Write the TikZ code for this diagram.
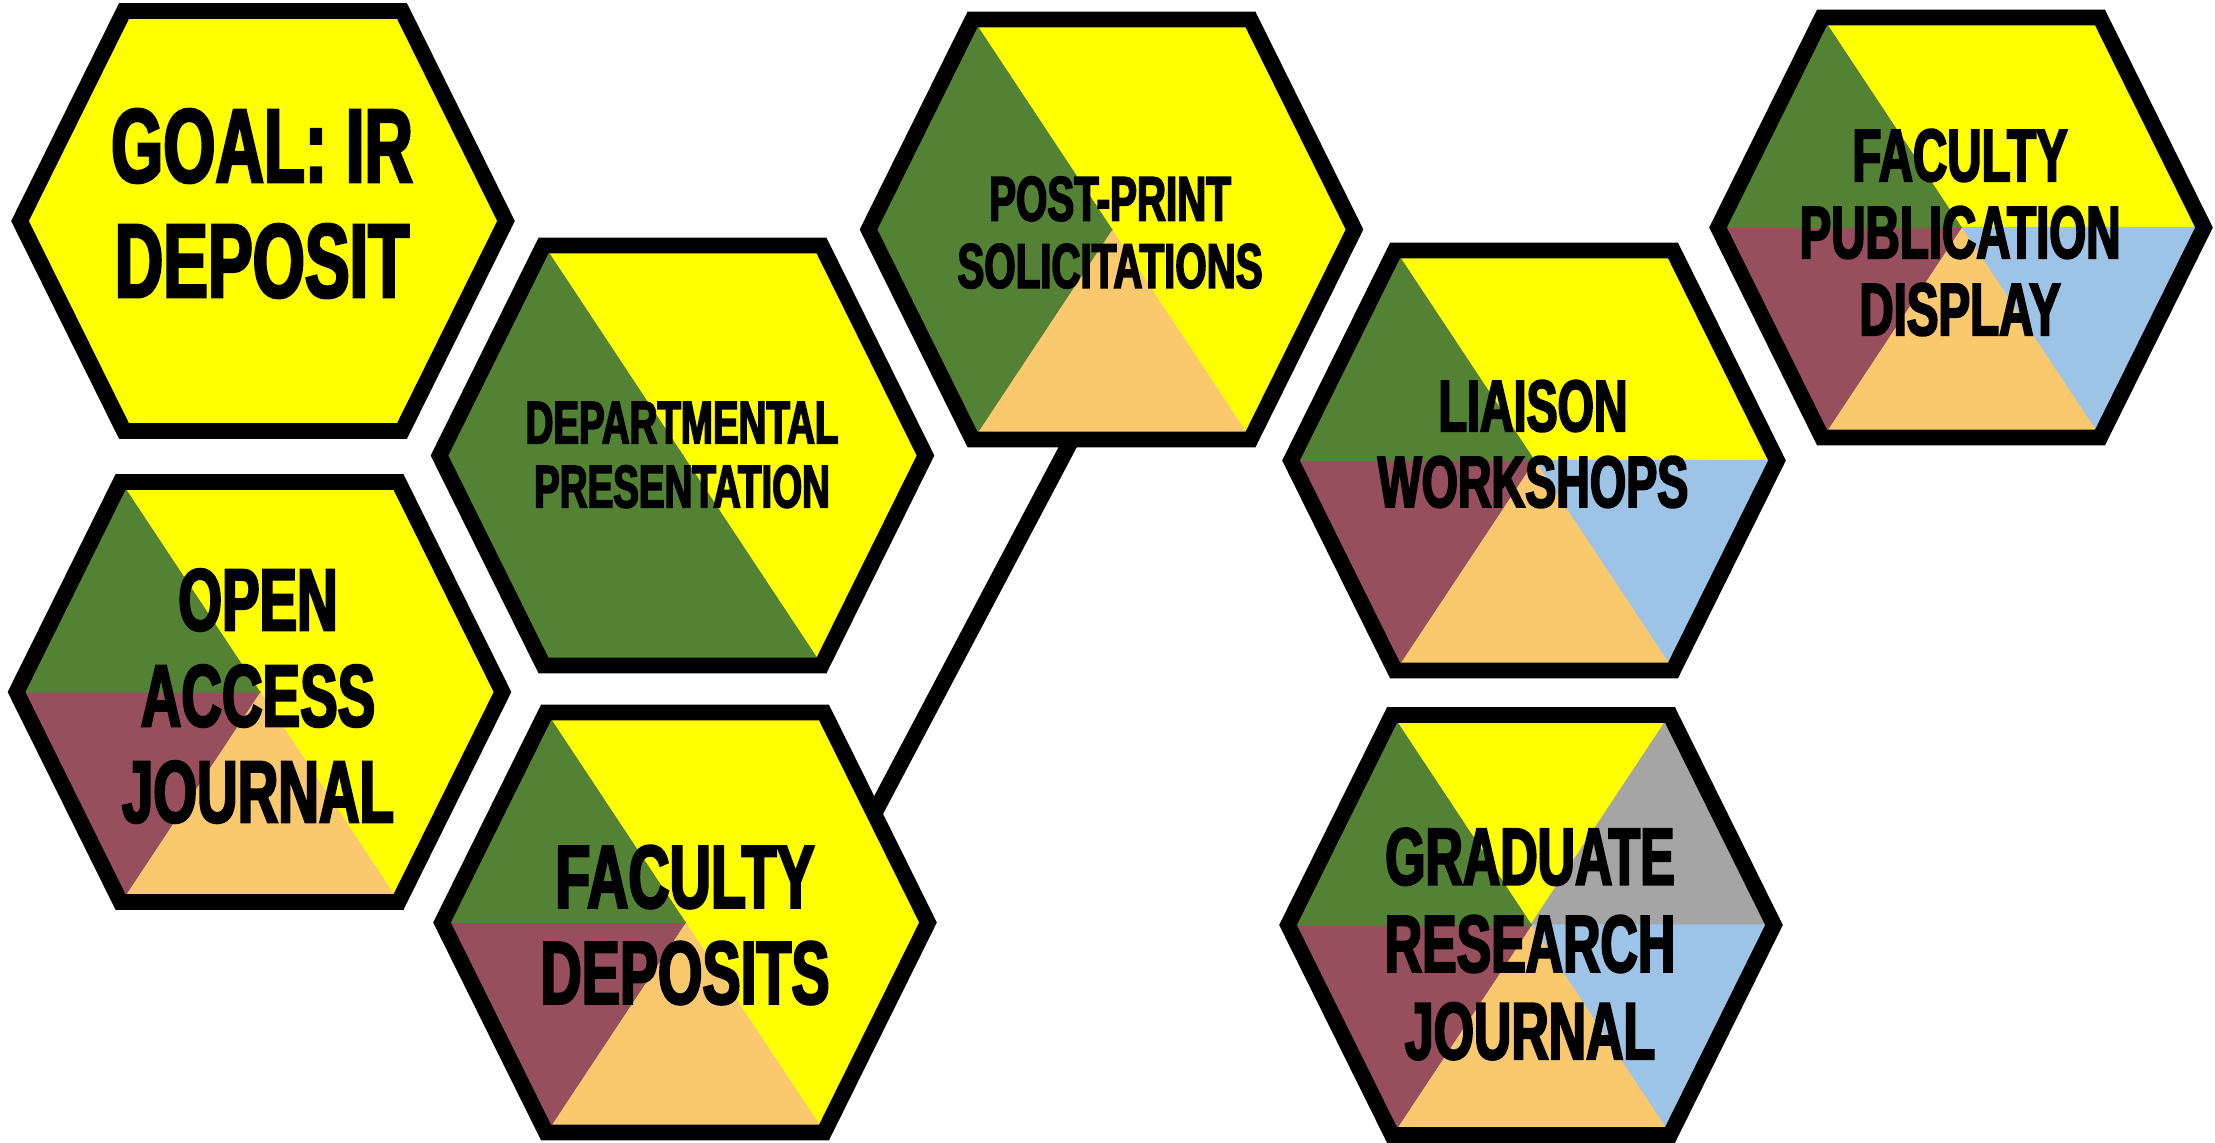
\documentclass[tikz,border=0pt]{standalone}
\usepackage{fontspec}
\newfontfamily\hexfont{Liberation Sans Bold}[FakeStretch=0.64,FakeBold=2.6]
\usepackage{tikz}
\usetikzlibrary{calc, positioning}
\definecolor{hexyellow}{HTML}{FFFF00}
\definecolor{hexgreen}{HTML}{548235}
\definecolor{hexmaroon}{HTML}{974F5E}
\definecolor{hexpeach}{HTML}{FAC96E}
\definecolor{hexblue}{HTML}{9DC3E6}
\definecolor{hexgrey}{HTML}{A5A5A5}
\tikzstyle{hexedge} = [line width=4.5pt, draw=black, line join=miter]
\tikzstyle{wedge} = [line width=0.4pt]
\tikzstyle{hextext} = [align=center, text=black, inner sep=0pt]
\tikzstyle{link} = [line width=4.6pt, draw=black]
% one honeycomb cell: centre, then top, upper right, lower right, bottom, lower left, upper left
\newcommand{\hexcell}[7]{%
	\begin{scope}[shift={(#1)}]
		\filldraw[wedge, #2] (0,0) -- (-139,-210) -- (139,-210) -- cycle;
		\filldraw[wedge, #3] (0,0) -- (139,-210) -- (243,0) -- cycle;
		\filldraw[wedge, #4] (0,0) -- (243,0) -- (139,210) -- cycle;
		\filldraw[wedge, #5] (0,0) -- (139,210) -- (-139,210) -- cycle;
		\filldraw[wedge, #6] (0,0) -- (-139,210) -- (-243,0) -- cycle;
		\filldraw[wedge, #7] (0,0) -- (-243,0) -- (-139,-210) -- cycle;
		\draw[hexedge] (-139,-210) -- (139,-210) -- (243,0) -- (139,210) -- (-139,210) -- (-243,0) -- cycle;
	\end{scope}}
\newcommand{\hexsize}[2]{\hexfont\fontsize{#1}{#2}\selectfont}

\begin{document}
\begin{tikzpicture}[x=0.01cm, y=-0.01cm]
	\useasboundingbox (0,0) rectangle (2215,1142);
	\coordinate (GoalCell) at (263,221);
	\coordinate (DeptCell) at (682.5,455.5);
	\coordinate (PostCell) at (1111.5,229.5);
	\coordinate (LiaisonCell) at (1534,460.5);
	\coordinate (DisplayCell) at (1961,227.5);
	\coordinate (GradCell) at (1531,925);
	\coordinate (OpenCell) at (259.5,692);
	\coordinate (DepositCell) at (685,922.5);
	\coordinate (PostFoot) at (1082,420);
	\coordinate (DepositSide) at (867,827);
	\draw [link] (PostFoot) -- (DepositSide);
	\hexcell{GoalCell}{hexyellow}{hexyellow}{hexyellow}{hexyellow}{hexyellow}{hexyellow}
	\hexcell{DeptCell}{hexyellow}{hexyellow}{hexyellow}{hexgreen}{hexgreen}{hexgreen}
	\hexcell{PostCell}{hexyellow}{hexyellow}{hexyellow}{hexpeach}{hexgreen}{hexgreen}
	\hexcell{LiaisonCell}{hexyellow}{hexyellow}{hexblue}{hexpeach}{hexmaroon}{hexgreen}
	\hexcell{DisplayCell}{hexyellow}{hexyellow}{hexblue}{hexpeach}{hexmaroon}{hexgreen}
	\hexcell{GradCell}{hexyellow}{hexgrey}{hexblue}{hexpeach}{hexmaroon}{hexgreen}
	\hexcell{OpenCell}{hexyellow}{hexyellow}{hexyellow}{hexpeach}{hexmaroon}{hexgreen}
	\hexcell{DepositCell}{hexyellow}{hexyellow}{hexyellow}{hexpeach}{hexmaroon}{hexgreen}
	\node (Goal) [hextext, font=\hexsize{29.8pt}{32.7pt}] at (262,203.5) {GOAL: IR\\DEPOSIT};
	\node (Dept) [hextext, font=\hexsize{17.1pt}{18.2pt}] at (682,455) {DEPARTMENTAL\\PRESENTATION};
	\node (Post) [hextext, font=\hexsize{17.9pt}{19.1pt}] at (1110,232.5) {POST-PRINT\\SOLICITATIONS};
	\node (Liaison) [hextext, font=\hexsize{20.7pt}{21.6pt}] at (1533,444) {LIAISON\\WORKSHOPS};
	\node (Display) [hextext, font=\hexsize{21.1pt}{21.9pt}] at (1960,232.5) {FACULTY\\PUBLICATION\\DISPLAY};
	\node (Grad) [hextext, font=\hexsize{23pt}{24.8pt}] at (1530,944) {GRADUATE\\RESEARCH\\JOURNAL};
	\node (Open) [hextext, font=\hexsize{25pt}{27.3pt}] at (258,696) {OPEN\\ACCESS\\JOURNAL};
	\node (Deposit) [hextext, font=\hexsize{25.4pt}{27.3pt}] at (685,925) {FACULTY\\DEPOSITS};
\end{tikzpicture}
\end{document}
